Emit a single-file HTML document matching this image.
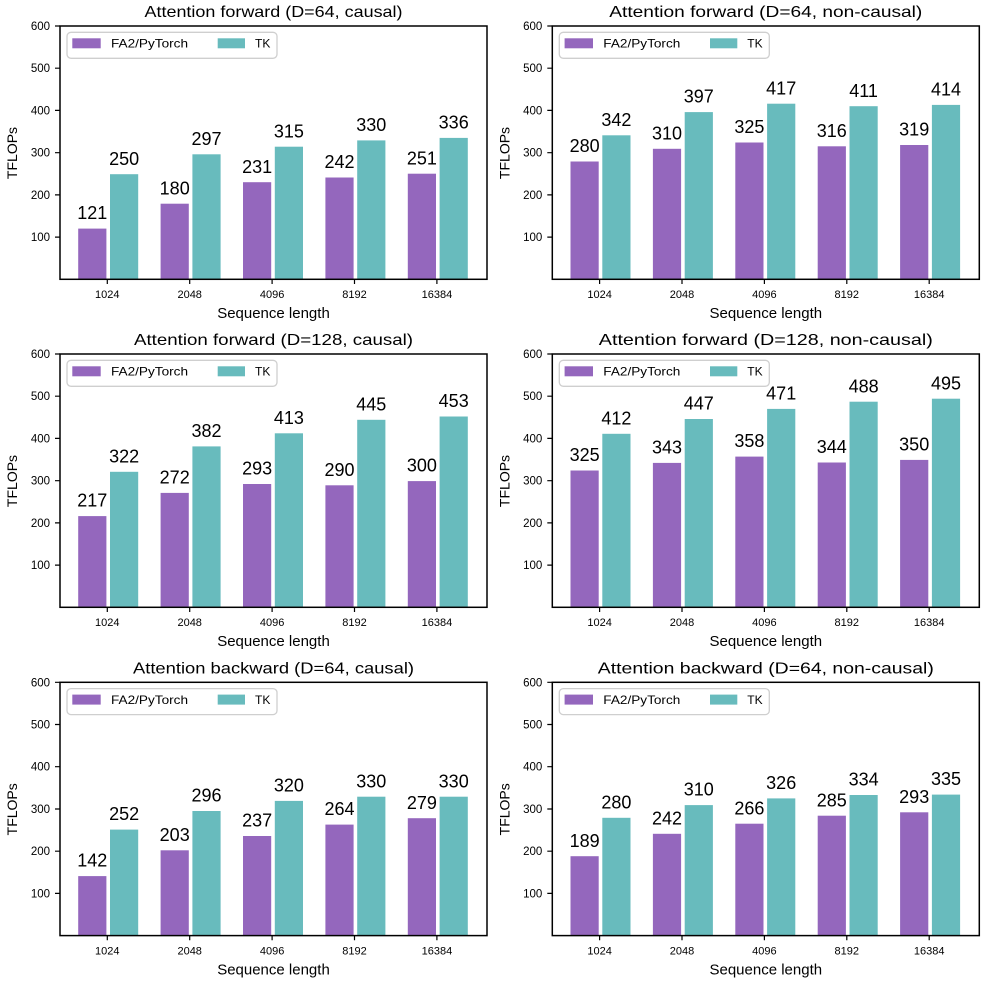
<!DOCTYPE html>
<html><head><meta charset="utf-8"><style>
html,body{margin:0;padding:0;background:#fff;}
svg{display:block;}
text{font-family:"Liberation Sans","DejaVu Sans",sans-serif;fill:#000;}
.t{font-size:16px;text-anchor:middle;}
.v{font-size:18px;text-anchor:middle;}
.yl{font-size:11.5px;text-anchor:end;}
.xl{font-size:11px;text-anchor:middle;}
.ax{font-size:15px;text-anchor:middle;}
.lg{font-size:12px;}
.p{fill:#9467bd;stroke:#fff;stroke-width:0.8;}
.k{fill:#68bbbd;stroke:#fff;stroke-width:0.8;}
.fr{fill:none;stroke:#000;stroke-width:1.5;}
.tk{stroke:#000;stroke-width:1.2;fill:none;}
.lb{fill:#fff;fill-opacity:0.85;stroke:#cfcfcf;stroke-width:1.3;}
</style></head><body>
<svg width="982" height="984" viewBox="0 0 982 984" xmlns="http://www.w3.org/2000/svg">
<rect width="982" height="984" fill="#fff"/>
<defs>
<g id="axes">
<rect class="fr" x="0" y="0" width="427" height="253.3"/>
<path class="tk" d="M-5 211.1H0M-5 168.9H0M-5 126.7H0M-5 84.4H0M-5 42.2H0M-5 0H0"/>
<path class="tk" d="M47.3 253.3V258M129.7 253.3V258M212.1 253.3V258M294.5 253.3V258M376.9 253.3V258"/>
<rect class="lb" x="7" y="6.3" width="210" height="26" rx="4"/>
<rect x="12.3" y="12.3" width="28.4" height="10" fill="#9467bd"/>
<rect x="157.7" y="12.3" width="27.3" height="10" fill="#68bbbd"/>
</g>
</defs>

<!-- Panel 1 -->
<g transform="translate(60,26)">
<text class="t" x="213.5" y="-9" textLength="258" lengthAdjust="spacingAndGlyphs">Attention forward (D=64, causal)</text>
<rect class="p" x="17.8" y="202.2" width="29" height="51.1"/>
<rect class="p" x="100.2" y="177.3" width="29" height="76.0"/>
<rect class="p" x="182.6" y="155.8" width="29" height="97.5"/>
<rect class="p" x="265.0" y="151.1" width="29" height="102.2"/>
<rect class="p" x="347.4" y="147.3" width="29" height="106.0"/>
<rect class="k" x="49.6" y="147.8" width="29" height="105.5"/>
<rect class="k" x="132.0" y="127.9" width="29" height="125.4"/>
<rect class="k" x="214.4" y="120.3" width="29" height="133.0"/>
<rect class="k" x="296.8" y="114.0" width="29" height="139.3"/>
<rect class="k" x="379.2" y="111.5" width="29" height="141.8"/>
<text class="v" x="32.3" y="193.2">121</text>
<text class="v" x="114.7" y="168.3">180</text>
<text class="v" x="197.1" y="146.8">231</text>
<text class="v" x="279.5" y="142.1">242</text>
<text class="v" x="361.9" y="138.3">251</text>
<text class="v" x="64.1" y="138.8">250</text>
<text class="v" x="146.5" y="118.9">297</text>
<text class="v" x="228.9" y="111.3">315</text>
<text class="v" x="311.3" y="105.0">330</text>
<text class="v" x="393.7" y="102.5">336</text>
<use href="#axes"/>
<text class="yl" x="-10" y="215.1">100</text><text class="yl" x="-10" y="172.9">200</text><text class="yl" x="-10" y="130.7">300</text><text class="yl" x="-10" y="88.4">400</text><text class="yl" x="-10" y="46.2">500</text><text class="yl" x="-10" y="4">600</text>
<text class="xl" x="47.3" y="272">1024</text><text class="xl" x="129.7" y="272">2048</text><text class="xl" x="212.1" y="272">4096</text><text class="xl" x="294.5" y="272">8192</text><text class="xl" x="376.9" y="272">16384</text>
<text class="ax" x="213.5" y="292">Sequence length</text>
<text class="ax" style="font-size:14px" transform="translate(-43,127) rotate(-90)" x="0" y="0">TFLOPs</text>
<text class="lg" x="51" y="21.5" textLength="77" lengthAdjust="spacingAndGlyphs">FA2/PyTorch</text>
<text class="lg" x="195" y="21.5">TK</text>
</g>

<!-- Panel 2 -->
<g transform="translate(552.3,26)">
<text class="t" x="213.5" y="-9" textLength="313" lengthAdjust="spacingAndGlyphs">Attention forward (D=64, non-causal)</text>
<rect class="p" x="17.8" y="135.1" width="29" height="118.2"/>
<rect class="p" x="100.2" y="122.4" width="29" height="130.9"/>
<rect class="p" x="182.6" y="116.1" width="29" height="137.2"/>
<rect class="p" x="265.0" y="119.9" width="29" height="133.4"/>
<rect class="p" x="347.4" y="118.6" width="29" height="134.7"/>
<rect class="k" x="49.6" y="108.9" width="29" height="144.4"/>
<rect class="k" x="132.0" y="85.7" width="29" height="167.6"/>
<rect class="k" x="214.4" y="77.3" width="29" height="176.0"/>
<rect class="k" x="296.8" y="79.8" width="29" height="173.5"/>
<rect class="k" x="379.2" y="78.5" width="29" height="174.8"/>
<text class="v" x="32.3" y="126.1">280</text>
<text class="v" x="114.7" y="113.4">310</text>
<text class="v" x="197.1" y="107.1">325</text>
<text class="v" x="279.5" y="110.9">316</text>
<text class="v" x="361.9" y="109.6">319</text>
<text class="v" x="64.1" y="99.9">342</text>
<text class="v" x="146.5" y="76.7">397</text>
<text class="v" x="228.9" y="68.3">417</text>
<text class="v" x="311.3" y="70.8">411</text>
<text class="v" x="393.7" y="69.5">414</text>
<use href="#axes"/>
<text class="yl" x="-10" y="215.1">100</text><text class="yl" x="-10" y="172.9">200</text><text class="yl" x="-10" y="130.7">300</text><text class="yl" x="-10" y="88.4">400</text><text class="yl" x="-10" y="46.2">500</text><text class="yl" x="-10" y="4">600</text>
<text class="xl" x="47.3" y="272">1024</text><text class="xl" x="129.7" y="272">2048</text><text class="xl" x="212.1" y="272">4096</text><text class="xl" x="294.5" y="272">8192</text><text class="xl" x="376.9" y="272">16384</text>
<text class="ax" x="213.5" y="292">Sequence length</text>
<text class="ax" style="font-size:14px" transform="translate(-43,127) rotate(-90)" x="0" y="0">TFLOPs</text>
<text class="lg" x="51" y="21.5" textLength="77" lengthAdjust="spacingAndGlyphs">FA2/PyTorch</text>
<text class="lg" x="195" y="21.5">TK</text>
</g>

<!-- Panel 3 -->
<g transform="translate(60,354)">
<text class="t" x="213.5" y="-9" textLength="279" lengthAdjust="spacingAndGlyphs">Attention forward (D=128, causal)</text>
<rect class="p" x="17.8" y="161.7" width="29" height="91.6"/>
<rect class="p" x="100.2" y="138.5" width="29" height="114.8"/>
<rect class="p" x="182.6" y="129.6" width="29" height="123.7"/>
<rect class="p" x="265.0" y="130.9" width="29" height="122.4"/>
<rect class="p" x="347.4" y="126.7" width="29" height="126.6"/>
<rect class="k" x="49.6" y="117.4" width="29" height="135.9"/>
<rect class="k" x="132.0" y="92.0" width="29" height="161.3"/>
<rect class="k" x="214.4" y="78.9" width="29" height="174.4"/>
<rect class="k" x="296.8" y="65.4" width="29" height="187.9"/>
<rect class="k" x="379.2" y="62.1" width="29" height="191.2"/>
<text class="v" x="32.3" y="152.7">217</text>
<text class="v" x="114.7" y="129.5">272</text>
<text class="v" x="197.1" y="120.6">293</text>
<text class="v" x="279.5" y="121.9">290</text>
<text class="v" x="361.9" y="117.7">300</text>
<text class="v" x="64.1" y="108.4">322</text>
<text class="v" x="146.5" y="83.0">382</text>
<text class="v" x="228.9" y="69.9">413</text>
<text class="v" x="311.3" y="56.4">445</text>
<text class="v" x="393.7" y="53.1">453</text>
<use href="#axes"/>
<text class="yl" x="-10" y="215.1">100</text><text class="yl" x="-10" y="172.9">200</text><text class="yl" x="-10" y="130.7">300</text><text class="yl" x="-10" y="88.4">400</text><text class="yl" x="-10" y="46.2">500</text><text class="yl" x="-10" y="4">600</text>
<text class="xl" x="47.3" y="272">1024</text><text class="xl" x="129.7" y="272">2048</text><text class="xl" x="212.1" y="272">4096</text><text class="xl" x="294.5" y="272">8192</text><text class="xl" x="376.9" y="272">16384</text>
<text class="ax" x="213.5" y="292">Sequence length</text>
<text class="ax" style="font-size:14px" transform="translate(-43,127) rotate(-90)" x="0" y="0">TFLOPs</text>
<text class="lg" x="51" y="21.5" textLength="77" lengthAdjust="spacingAndGlyphs">FA2/PyTorch</text>
<text class="lg" x="195" y="21.5">TK</text>
</g>

<!-- Panel 4 -->
<g transform="translate(552.3,354)">
<text class="t" x="213.5" y="-9" textLength="334" lengthAdjust="spacingAndGlyphs">Attention forward (D=128, non-causal)</text>
<rect class="p" x="17.8" y="116.1" width="29" height="137.2"/>
<rect class="p" x="100.2" y="108.5" width="29" height="144.8"/>
<rect class="p" x="182.6" y="102.2" width="29" height="151.1"/>
<rect class="p" x="265.0" y="108.1" width="29" height="145.2"/>
<rect class="p" x="347.4" y="105.5" width="29" height="147.8"/>
<rect class="k" x="49.6" y="79.4" width="29" height="173.9"/>
<rect class="k" x="132.0" y="64.6" width="29" height="188.7"/>
<rect class="k" x="214.4" y="54.5" width="29" height="198.8"/>
<rect class="k" x="296.8" y="47.3" width="29" height="206.0"/>
<rect class="k" x="379.2" y="44.3" width="29" height="209.0"/>
<text class="v" x="32.3" y="107.1">325</text>
<text class="v" x="114.7" y="99.5">343</text>
<text class="v" x="197.1" y="93.2">358</text>
<text class="v" x="279.5" y="99.1">344</text>
<text class="v" x="361.9" y="96.5">350</text>
<text class="v" x="64.1" y="70.4">412</text>
<text class="v" x="146.5" y="55.6">447</text>
<text class="v" x="228.9" y="45.5">471</text>
<text class="v" x="311.3" y="38.3">488</text>
<text class="v" x="393.7" y="35.3">495</text>
<use href="#axes"/>
<text class="yl" x="-10" y="215.1">100</text><text class="yl" x="-10" y="172.9">200</text><text class="yl" x="-10" y="130.7">300</text><text class="yl" x="-10" y="88.4">400</text><text class="yl" x="-10" y="46.2">500</text><text class="yl" x="-10" y="4">600</text>
<text class="xl" x="47.3" y="272">1024</text><text class="xl" x="129.7" y="272">2048</text><text class="xl" x="212.1" y="272">4096</text><text class="xl" x="294.5" y="272">8192</text><text class="xl" x="376.9" y="272">16384</text>
<text class="ax" x="213.5" y="292">Sequence length</text>
<text class="ax" style="font-size:14px" transform="translate(-43,127) rotate(-90)" x="0" y="0">TFLOPs</text>
<text class="lg" x="51" y="21.5" textLength="77" lengthAdjust="spacingAndGlyphs">FA2/PyTorch</text>
<text class="lg" x="195" y="21.5">TK</text>
</g>

<!-- Panel 5 -->
<g transform="translate(60,682.3)">
<text class="t" x="213.5" y="-9" textLength="281" lengthAdjust="spacingAndGlyphs">Attention backward (D=64, causal)</text>
<rect class="p" x="17.8" y="193.4" width="29" height="59.9"/>
<rect class="p" x="100.2" y="167.6" width="29" height="85.7"/>
<rect class="p" x="182.6" y="153.3" width="29" height="100.0"/>
<rect class="p" x="265.0" y="141.9" width="29" height="111.4"/>
<rect class="p" x="347.4" y="135.5" width="29" height="117.8"/>
<rect class="k" x="49.6" y="146.9" width="29" height="106.4"/>
<rect class="k" x="132.0" y="128.3" width="29" height="125.0"/>
<rect class="k" x="214.4" y="118.2" width="29" height="135.1"/>
<rect class="k" x="296.8" y="114.0" width="29" height="139.3"/>
<rect class="k" x="379.2" y="114.0" width="29" height="139.3"/>
<text class="v" x="32.3" y="184.4">142</text>
<text class="v" x="114.7" y="158.6">203</text>
<text class="v" x="197.1" y="144.3">237</text>
<text class="v" x="279.5" y="132.9">264</text>
<text class="v" x="361.9" y="126.5">279</text>
<text class="v" x="64.1" y="137.9">252</text>
<text class="v" x="146.5" y="119.3">296</text>
<text class="v" x="228.9" y="109.2">320</text>
<text class="v" x="311.3" y="105.0">330</text>
<text class="v" x="393.7" y="105.0">330</text>
<use href="#axes"/>
<text class="yl" x="-10" y="215.1">100</text><text class="yl" x="-10" y="172.9">200</text><text class="yl" x="-10" y="130.7">300</text><text class="yl" x="-10" y="88.4">400</text><text class="yl" x="-10" y="46.2">500</text><text class="yl" x="-10" y="4">600</text>
<text class="xl" x="47.3" y="272">1024</text><text class="xl" x="129.7" y="272">2048</text><text class="xl" x="212.1" y="272">4096</text><text class="xl" x="294.5" y="272">8192</text><text class="xl" x="376.9" y="272">16384</text>
<text class="ax" x="213.5" y="292">Sequence length</text>
<text class="ax" style="font-size:14px" transform="translate(-43,127) rotate(-90)" x="0" y="0">TFLOPs</text>
<text class="lg" x="51" y="21.5" textLength="77" lengthAdjust="spacingAndGlyphs">FA2/PyTorch</text>
<text class="lg" x="195" y="21.5">TK</text>
</g>

<!-- Panel 6 -->
<g transform="translate(552.3,682.3)">
<text class="t" x="213.5" y="-9" textLength="336" lengthAdjust="spacingAndGlyphs">Attention backward (D=64, non-causal)</text>
<rect class="p" x="17.8" y="173.5" width="29" height="79.8"/>
<rect class="p" x="100.2" y="151.1" width="29" height="102.2"/>
<rect class="p" x="182.6" y="141.0" width="29" height="112.3"/>
<rect class="p" x="265.0" y="133.0" width="29" height="120.3"/>
<rect class="p" x="347.4" y="129.6" width="29" height="123.7"/>
<rect class="k" x="49.6" y="135.1" width="29" height="118.2"/>
<rect class="k" x="132.0" y="122.4" width="29" height="130.9"/>
<rect class="k" x="214.4" y="115.7" width="29" height="137.6"/>
<rect class="k" x="296.8" y="112.3" width="29" height="141.0"/>
<rect class="k" x="379.2" y="111.9" width="29" height="141.4"/>
<text class="v" x="32.3" y="164.5">189</text>
<text class="v" x="114.7" y="142.1">242</text>
<text class="v" x="197.1" y="132.0">266</text>
<text class="v" x="279.5" y="124.0">285</text>
<text class="v" x="361.9" y="120.6">293</text>
<text class="v" x="64.1" y="126.1">280</text>
<text class="v" x="146.5" y="113.4">310</text>
<text class="v" x="228.9" y="106.7">326</text>
<text class="v" x="311.3" y="103.3">334</text>
<text class="v" x="393.7" y="102.9">335</text>
<use href="#axes"/>
<text class="yl" x="-10" y="215.1">100</text><text class="yl" x="-10" y="172.9">200</text><text class="yl" x="-10" y="130.7">300</text><text class="yl" x="-10" y="88.4">400</text><text class="yl" x="-10" y="46.2">500</text><text class="yl" x="-10" y="4">600</text>
<text class="xl" x="47.3" y="272">1024</text><text class="xl" x="129.7" y="272">2048</text><text class="xl" x="212.1" y="272">4096</text><text class="xl" x="294.5" y="272">8192</text><text class="xl" x="376.9" y="272">16384</text>
<text class="ax" x="213.5" y="292">Sequence length</text>
<text class="ax" style="font-size:14px" transform="translate(-43,127) rotate(-90)" x="0" y="0">TFLOPs</text>
<text class="lg" x="51" y="21.5" textLength="77" lengthAdjust="spacingAndGlyphs">FA2/PyTorch</text>
<text class="lg" x="195" y="21.5">TK</text>
</g>
</svg>
</body></html>
